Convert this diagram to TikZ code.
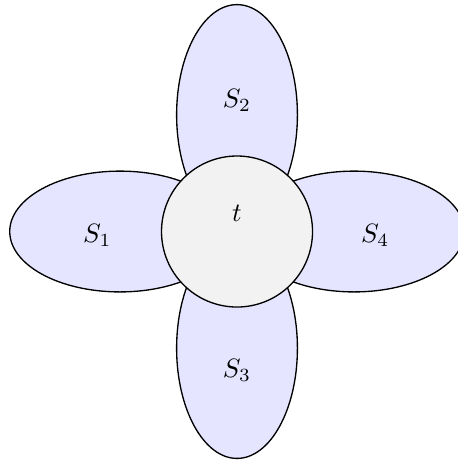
\documentclass[tikz,border=0pt]{standalone}
\begin{document}
\begin{tikzpicture}[x=1cm,y=1cm,
  petal/.style={draw=black, fill=blue!10, line width=0.5pt},
  core/.style={draw=black, fill=gray!10, line width=0.5pt}]
\useasboundingbox (-3.139,-3.026) rectangle (2.914,3.066);
\fill[petal] (-1.55,0) ellipse [x radius=1.46, y radius=0.8];
\fill[petal] (0,1.545) ellipse [x radius=0.8, y radius=1.46];
\fill[petal] (0,-1.545) ellipse [x radius=0.8, y radius=1.46];
\fill[petal] (1.55,0) ellipse [x radius=1.46, y radius=0.8];
\node[core, circle, minimum size=2cm, inner sep=0pt] (t) at (0,0) {};
\node (s1) at (-1.85,-0.05) {$S_1$};
\node (s2) at (0,1.74) {$S_2$};
\node (s3) at (0,-1.84) {$S_3$};
\node (s4) at (1.83,-0.05) {$S_4$};
\node (tl) at (0,0.24) {$t$};
\end{tikzpicture}
\end{document}
